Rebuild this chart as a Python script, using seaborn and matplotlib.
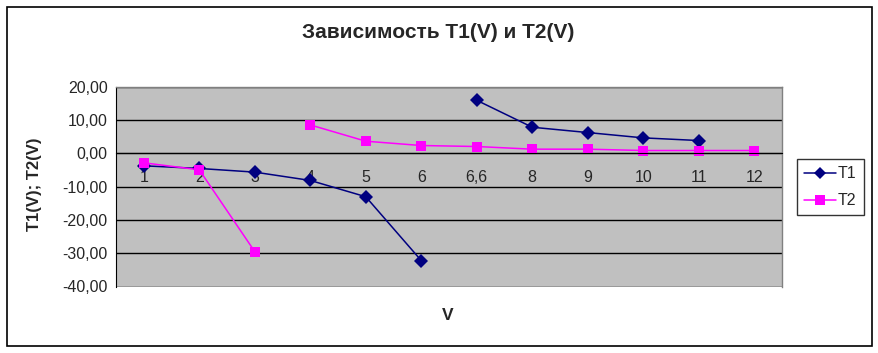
import numpy as np
import pandas as pd
import seaborn as sns
import matplotlib.pyplot as plt
from matplotlib.patches import Rectangle
from matplotlib.ticker import FuncFormatter, MultipleLocator

categories = ['1', '2', '3', '4', '5', '6', '6,6', '8', '9', '10', '11', '12']
t1 = [-3.7, -4.5, -5.6, -8.1, -13.0, -32.2, 16.0, 7.9, 6.3, 4.7, 3.9, np.nan]
t2 = [-2.8, -4.9, -29.5, 8.6, 3.7, 2.4, 2.1, 1.3, 1.3, 0.9, 0.9, 0.9]
# points where the curve breaks (vertical asymptote)
t1_break = '6,6'
t2_break = '4'

rows = []
for name, vals, brk in [('T1', t1, t1_break), ('T2', t2, t2_break)]:
    seg = 0
    for i, (c, v) in enumerate(zip(categories, vals)):
        if c == brk:
            seg = 1
        if not np.isnan(v):
            rows.append({'V': i, 'T': v, 'series': name, 'seg': seg})
df = pd.DataFrame(rows)

sns.set_style('white')
plt.rcParams['font.family'] = ['Liberation Sans', 'DejaVu Sans']

fig = plt.figure(figsize=(8.79, 3.53), dpi=100)
ax = fig.add_axes([116 / 879, 1 - 286.5 / 353, 666 / 879, 199.5 / 353])
ax.set_facecolor('#C0C0C0')

sns.lineplot(data=df, x='V', y='T', hue='series', style='series', units='seg',
             estimator=None, sort=False, ax=ax,
             palette={'T1': '#000080', 'T2': '#FF00FF'},
             markers={'T1': 'D', 'T2': 's'}, dashes=False,
             markersize=7, markeredgewidth=0, linewidth=1.1, legend=False)

ax.set_xlim(-0.5, len(categories) - 0.5)
ax.set_ylim(-40, 20)
ax.yaxis.set_major_locator(MultipleLocator(10))
ax.yaxis.set_major_formatter(FuncFormatter(lambda v, p: f'{v:.2f}'.replace('.', ',')))
ax.grid(axis='y', color='black', linewidth=1)
ax.set_axisbelow(True)

ax.set_xticks(range(len(categories)))
ax.set_xticklabels(categories)
ax.set_xticks(np.arange(0.5, len(categories) - 0.5, 1), minor=True)
ax.tick_params(axis='x', which='major', length=0, pad=12, labelsize=11.5)
ax.tick_params(axis='x', which='minor', length=4, width=1, color='black', direction='out')
ax.tick_params(axis='y', length=4, width=1, color='black', direction='out', labelsize=11.5, pad=2)

ax.spines['bottom'].set_position(('data', 0))
for s in ['top', 'right']:
    ax.spines[s].set_color('#808080')
    ax.spines[s].set_linewidth(1)
ax.spines['left'].set_color('black')
ax.spines['bottom'].set_color('black')

ax.set_xlabel('')
ax.set_ylabel('')
fig.text(34 / 879, 1 - 184 / 353, 'T1(V); T2(V)', ha='center', va='center', rotation=90,
         fontsize=12, fontweight='bold')
fig.text(448 / 879, 1 - 315 / 353, 'V', ha='center', va='center', fontsize=12.5, fontweight='bold')
fig.text(438.5 / 879, 1 - 32 / 353, 'Зависимость T1(V) и T2(V)', ha='center', va='center',
         fontsize=15, fontweight='bold')

handles = [plt.Line2D([], [], color='#000080', marker='D', markersize=6.5, markeredgewidth=0, linewidth=1.1),
           plt.Line2D([], [], color='#FF00FF', marker='s', markersize=6.5, markeredgewidth=0, linewidth=1.1)]
leg = fig.legend(handles, ['T1', 'T2'], loc='upper left', bbox_to_anchor=(797 / 879, 1 - 159 / 353),
                 frameon=True, fancybox=False, fontsize=11.5, handlelength=2.0, handletextpad=0.1,
                 borderpad=0.45, labelspacing=0.75, borderaxespad=0)
leg.get_frame().set_edgecolor('black')
leg.get_frame().set_linewidth(1)

fig.patches.append(Rectangle((7 / 879, 1 - 346 / 353), 865 / 879, 339 / 353, transform=fig.transFigure,
                             fill=False, edgecolor='black', linewidth=1.2))

fig.savefig('out.png', dpi=100)
